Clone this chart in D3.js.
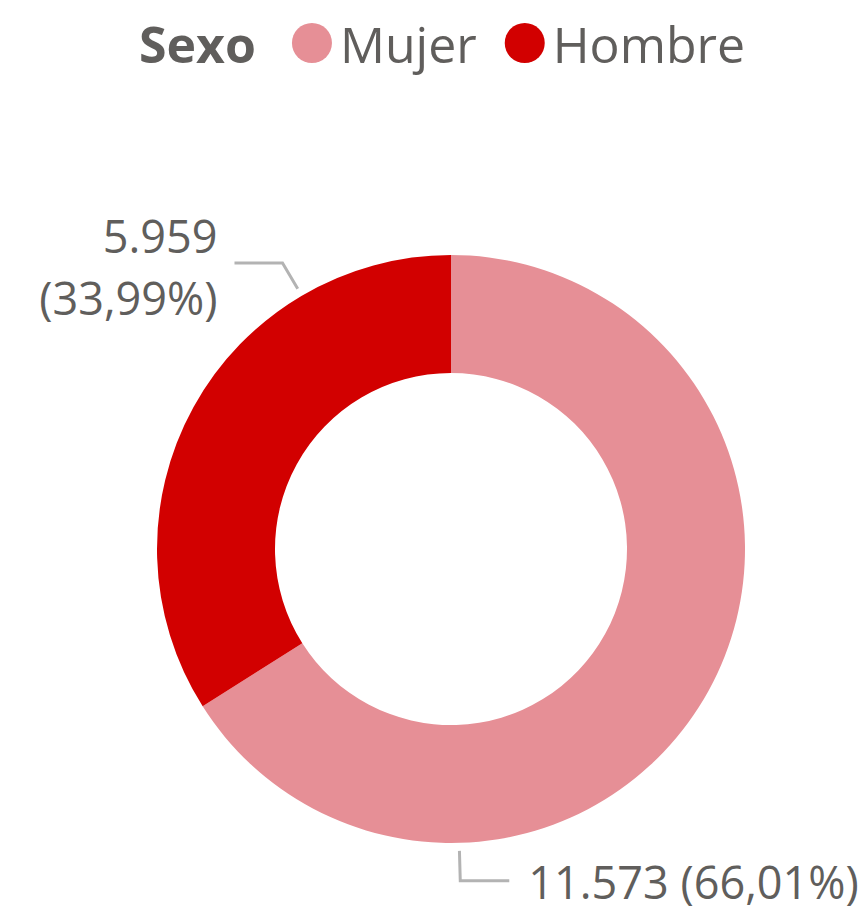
<!DOCTYPE html>
<html>
<head>
<meta charset="utf-8">
<script src="https://cdn.jsdelivr.net/npm/d3@7"></script>
<style>
  html, body { margin: 0; padding: 0; background: #fff; }
  svg text { font-family: "Open Sans", "Noto Sans", sans-serif; fill: #605e5c; }
</style>
</head>
<body>
<div id="chart"></div>
<script>
// data
var categories = ['Mujer', 'Hombre'];
var values = [11573, 5959];
var colors = ['#e68f96', '#d20000'];
var legendTitle = 'Sexo';

var width = 861, height = 913;
var cx = 451, cy = 549;
var outerR = 294, innerR = 176;

// where the leader lines leave the ring (degrees clockwise from top)
var leaderAngles = [178.4, 329.5];

var fmtNum = d3.formatLocale({decimal: ',', thousands: '.', grouping: [3]});
var fmtInt = fmtNum.format(',d');
var fmtPct = fmtNum.format('.2%');

var svg = d3.select('#chart').append('svg')
	.attr('width', width)
	.attr('height', height);

var data = categories.map(function (c, i) { return {name: c, value: values[i], color: colors[i]}; });
var total = d3.sum(values);

var pie = d3.pie().sort(null).value(function (d) { return d.value; });
var arc = d3.arc().innerRadius(innerR).outerRadius(outerR);

var g = svg.append('g').attr('transform', 'translate(' + cx + ',' + cy + ')');
var arcs = pie(data);

g.selectAll('path.slice')
	.data(arcs)
	.enter().append('path')
	.attr('class', 'slice')
	.attr('d', arc)
	.attr('fill', function (d) { return d.data.color; });

// leader lines + labels
var polar = function (deg, r) {
	var a = deg * Math.PI / 180;
	return [r * Math.sin(a), -r * Math.cos(a)];
};

arcs.forEach(function (d, i) {
	var ang = leaderAngles[i];
	var p0 = polar(ang, outerR + 8);
	var p1 = polar(ang, outerR + 38);
	var right = ang < 270;
	var p2 = [p1[0] + (right ? 49 : -48), p1[1]];
	g.append('polyline')
		.attr('points', [p0, p1, p2].map(function (p) { return p.join(','); }).join(' '))
		.attr('fill', 'none')
		.attr('stroke', '#b3b3b3')
		.attr('stroke-width', 3);
	var numTxt = fmtInt(d.data.value);
	var pctTxt = '(' + fmtPct(d.data.value / total) + ')';
	if (right) {
		g.append('text')
			.attr('x', p2[0] + 19)
			.attr('y', p2[1] + 18)
			.attr('font-size', 45)
			.text(numTxt + ' ' + pctTxt);
	} else {
		var t = g.append('text')
			.attr('text-anchor', 'end')
			.attr('font-size', 45);
		t.append('tspan').attr('x', p2[0] - 17).attr('y', p2[1] - 10).text(numTxt);
		t.append('tspan').attr('x', p2[0] - 17).attr('y', p2[1] + 52).text(pctTxt);
	}
});

// legend
var legend = svg.append('g').attr('transform', 'translate(0,63)');
var lx = 139;
var title = legend.append('text')
	.attr('x', lx)
	.attr('font-size', 50)
	.attr('font-weight', 'bold')
	.text(legendTitle);
lx += title.node().getComputedTextLength() + 36;
data.forEach(function (d) {
	legend.append('circle')
		.attr('cx', lx + 20)
		.attr('cy', -20)
		.attr('r', 20)
		.attr('fill', d.color);
	var t = legend.append('text')
		.attr('x', lx + 48)
		.attr('font-size', 50)
		.text(d.name);
	lx += 48 + t.node().getComputedTextLength() + 28;
});
</script>
</body>
</html>
